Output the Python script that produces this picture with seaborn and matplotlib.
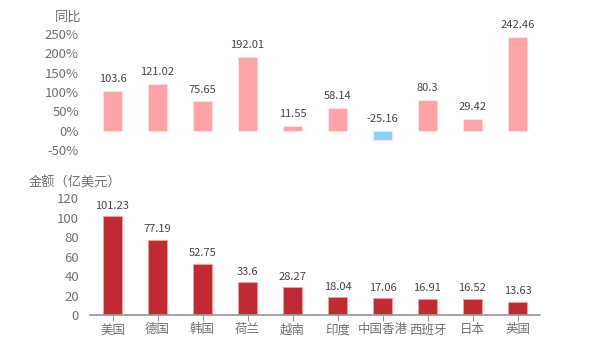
import matplotlib
matplotlib.use("Agg")
import matplotlib.pyplot as plt
import seaborn as sns
import pandas as pd

categories = ["美国", "德国", "韩国", "荷兰", "越南", "印度", "中国香港", "西班牙", "日本", "英国"]
yoy = [103.6, 121.02, 75.65, 192.01, 11.55, 58.14, -25.16, 80.3, 29.42, 242.46]
amount = [101.23, 77.19, 52.75, 33.6, 28.27, 18.04, 17.06, 16.91, 16.52, 13.63]
yoy_ticks = [-50, 0, 50, 100, 150, 200, 250]
amt_ticks = [0, 20, 40, 60, 80, 100, 120]

sns.set_theme(style="white")
plt.rcParams["font.family"] = ["Noto Sans CJK SC", "DejaVu Sans"]

gray = "#707070"
fig = plt.figure(figsize=(6, 3.5), dpi=100)
ax1 = fig.add_axes([0.15, 0.5714, 0.75, 0.331])
ax2 = fig.add_axes([0.15, 0.10, 0.75, 0.334])

df1 = pd.DataFrame({"cat": categories, "yoy": yoy,
                    "sign": ["neg" if v < 0 else "pos" for v in yoy]})
sns.barplot(data=df1, x="cat", y="yoy", hue="sign",
            palette={"pos": "#FFA4A6", "neg": "#8CCFFA"}, dodge=False, saturation=1,
            width=0.44, legend=False, ax=ax1, edgecolor="#ffe3e3", linewidth=0.6)
ax1.set_ylim(-50, 250)
ax1.set_yticks(yoy_ticks)
ax1.set_yticklabels([f"{t}%" for t in yoy_ticks], color=gray, fontsize=9.5)
ax1.set_xlim(-0.5, len(categories) - 0.5)
ax1.set_xticks([])
ax1.set_xlabel("")
ax1.set_ylabel("")
for s in ax1.spines.values():
    s.set_visible(False)
ax1.tick_params(axis="y", length=0, pad=8)
for i, v in enumerate(yoy):
    base = v if v >= 0 else 0
    ax1.annotate(f"{v:g}", (i, base), xytext=(0, 5), textcoords="offset points",
                 ha="center", va="bottom", fontsize=8, color="#444444")
fig.text(0.135, 0.951, "同比", ha="right", va="center", fontsize=9.5, color=gray)

df2 = pd.DataFrame({"cat": categories, "amount": amount})
sns.barplot(data=df2, x="cat", y="amount", color="#C12A33", saturation=1,
            width=0.44, ax=ax2, edgecolor="#f0a0a0", linewidth=0.6)
ax2.set_ylim(0, 120)
ax2.set_yticks(amt_ticks)
ax2.set_yticklabels([str(t) for t in amt_ticks], color=gray, fontsize=9.5)
ax2.set_xlim(-0.5, len(categories) - 0.5)
ax2.set_xlabel("")
ax2.set_ylabel("")
for k, s in ax2.spines.items():
    s.set_visible(k == "bottom")
ax2.spines["bottom"].set_color("#999999")
ax2.tick_params(axis="y", length=0, pad=8)
ax2.tick_params(axis="x", length=4, width=0.8, color="#999999", direction="out",
                bottom=True, labelsize=9, labelcolor=gray, pad=2)
for i, v in enumerate(amount):
    ax2.annotate(f"{v:g}", (i, v), xytext=(0, 4), textcoords="offset points",
                 ha="center", va="bottom", fontsize=8, color="#444444")
fig.text(0.047, 0.477, "金额（亿美元）", ha="left", va="center", fontsize=9.5, color=gray)

fig.savefig("out.png", dpi=100, facecolor="white")
